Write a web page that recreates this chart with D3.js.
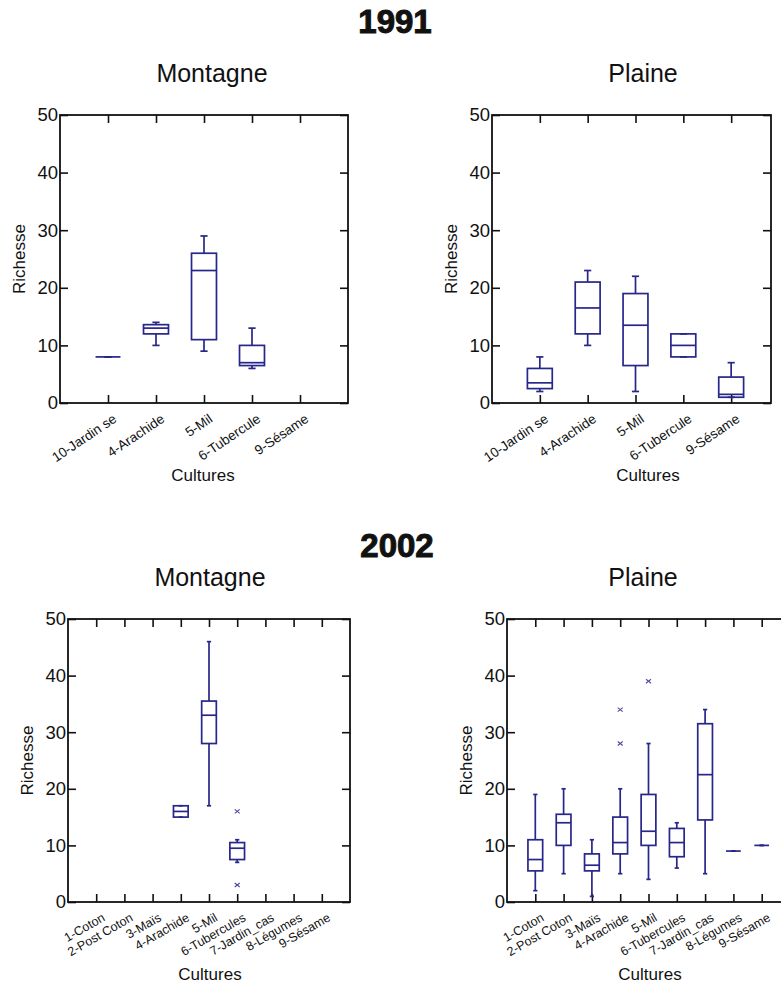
<!DOCTYPE html>
<html>
<head>
<meta charset="utf-8">
<title>Richesse par culture</title>
<script src="https://d3js.org/d3.v7.min.js"></script>
<style>
  body { margin: 0; background: #fff; }
  text { font-family: "Liberation Sans", Arial, sans-serif; fill: #111; }
</style>
</head>
<body>
<svg id="chart" width="781" height="983"></svg>
<script>
// categories
var cats1991 = ["10-Jardin se", "4-Arachide", "5-Mil", "6-Tubercule", "9-Sésame"];
var cats2002 = ["1-Coton", "2-Post Coton", "3-Maïs", "4-Arachide", "5-Mil",
                "6-Tubercules", "7-Jardin_cas", "8-Légumes", "9-Sésame"];
var yTicks = [0, 10, 20, 30, 40, 50];

// [min, q1, median, q3, max] per culture, null = no data
var montagne1991 = [[8, 8, 8, 8, 8], [10, 12, 13, 13.6, 14], [9, 11, 23, 26, 29],
                    [6, 6.5, 7, 10, 13], null];
var plaine1991 = [[2, 2.5, 3.5, 6, 8], [10, 12, 16.5, 21, 23], [2, 6.5, 13.5, 19, 22],
                  [8, 8, 10, 12, 12], [1, 1, 1.5, 4.5, 7]];
var montagne2002 = [null, null, null, [15, 15, 16, 17, 17], [17, 28, 33, 35.5, 46],
                    [7, 7.5, 9.5, 10.5, 11], null, null, null];
var plaine2002 = [[2, 5.5, 7.5, 11, 19], [5, 10, 14, 15.5, 20], [1, 5.5, 6.5, 8.5, 11],
                  [5, 8.5, 10.5, 15, 20], [4, 10, 12.5, 19, 28], [6, 8, 10.5, 13, 14],
                  [5, 14.5, 22.5, 31.5, 34], [9, 9, 9, 9, 9], [10, 10, 10, 10, 10]];
// outliers (x marks)
var montagne2002Out = [[], [], [], [], [], [16, 3], [], [], []];
var plaine2002Out = [[], [], [], [34, 28], [39], [], [], [], []];

var svg = d3.select("#chart")
var boxColor = "#27268a"

svg.append("text").attr("x", 395).attr("y", 33).attr("text-anchor", "middle")
  .attr("font-size", 33).attr("font-weight", "bold")
  .style("stroke", "#111").style("stroke-width", 1).text("1991")
svg.append("text").attr("x", 397).attr("y", 557).attr("text-anchor", "middle")
  .attr("font-size", 33).attr("font-weight", "bold")
  .style("stroke", "#111").style("stroke-width", 1).text("2002")

function drawPanel(p) {
  var g = svg.append("g")
  var x = d3.scalePoint().domain(p.cats).range([p.left, p.rangeRight]).padding(1)
  var y = d3.scaleLinear().domain([0, 50]).range([p.bottom, p.top])
  var bw = x.step() * 0.52
  var cw = x.step() * 0.15

  g.append("text").attr("x", p.titleX).attr("y", p.top - 33)
    .attr("text-anchor", "middle").attr("font-size", 25).text(p.title)

  // axes, ticks pointing inward
  var ax = g.append("g").attr("transform", "translate(" + p.left + ",0)")
    .call(d3.axisLeft(y).tickValues(yTicks).tickSize(-8).tickPadding(2))
  ax.selectAll("text").attr("font-size", 18.5).attr("fill", "#111")
  g.append("g").attr("transform", "translate(" + p.right + ",0)")
    .call(d3.axisRight(y).tickValues(yTicks).tickSize(-8).tickFormat(""))
  g.append("g").attr("transform", "translate(0," + p.top + ")")
    .call(d3.axisTop(x).tickSize(-8).tickFormat(""))
  var bx = g.append("g").attr("transform", "translate(0," + p.bottom + ")")
    .call(d3.axisBottom(x).tickSize(-8).tickPadding(0))
  bx.selectAll("text")
    .attr("font-size", p.labelSize).attr("fill", "#111")
    .attr("text-anchor", "end")
    .attr("dy", null).attr("y", null)
    .attr("transform", "translate(9,18) rotate(" + p.labelAngle + ")")
  g.selectAll(".domain").remove()
  g.selectAll(".tick line").attr("stroke", "#111").attr("stroke-width", 1.6)

  g.append("rect").attr("x", p.left).attr("y", p.top)
    .attr("width", p.right - p.left).attr("height", p.bottom - p.top)
    .attr("fill", "none").attr("stroke", "#111").attr("stroke-width", 1.8)

  g.append("text").attr("transform", "translate(" + (p.left - 41) + "," + ((p.top + p.bottom) / 2) + ") rotate(-90)")
    .attr("text-anchor", "middle").attr("dy", "0.35em").attr("font-size", 17).text("Richesse")
  g.append("text").attr("x", p.xLabelX).attr("y", p.bottom + 78)
    .attr("text-anchor", "middle").attr("font-size", 17).text("Cultures")

  // boxes
  var data = p.cats.map(function(c, i) { return {c: c, s: p.stats[i], o: p.out ? p.out[i] : []} })
  var box = g.selectAll("g.box").data(data.filter(function(d) { return d.s })).enter()
    .append("g").attr("class", "box")
    .attr("stroke", boxColor).attr("stroke-width", 1.7).attr("fill", "none")
  box.append("line").attr("x1", d => x(d.c)).attr("x2", d => x(d.c))
    .attr("y1", d => y(d.s[0])).attr("y2", d => y(d.s[1]))
  box.append("line").attr("x1", d => x(d.c)).attr("x2", d => x(d.c))
    .attr("y1", d => y(d.s[3])).attr("y2", d => y(d.s[4]))
  box.append("line").attr("x1", d => x(d.c) - cw / 2).attr("x2", d => x(d.c) + cw / 2)
    .attr("y1", d => y(d.s[0])).attr("y2", d => y(d.s[0]))
  box.append("line").attr("x1", d => x(d.c) - cw / 2).attr("x2", d => x(d.c) + cw / 2)
    .attr("y1", d => y(d.s[4])).attr("y2", d => y(d.s[4]))
  box.append("rect").attr("x", d => x(d.c) - bw / 2).attr("width", bw)
    .attr("y", d => y(d.s[3])).attr("height", d => y(d.s[1]) - y(d.s[3]))
  box.append("line").attr("x1", d => x(d.c) - bw / 2).attr("x2", d => x(d.c) + bw / 2)
    .attr("y1", d => y(d.s[2])).attr("y2", d => y(d.s[2]))

  // outliers
  var pts = []
  data.forEach(function(d) { d.o.forEach(function(v) { pts.push({c: d.c, v: v}) }) })
  var m = g.selectAll("g.out").data(pts).enter().append("g")
    .attr("transform", d => "translate(" + x(d.c) + "," + y(d.v) + ")")
    .attr("stroke", "#4a4aa8").attr("stroke-width", 1.1)
  m.append("line").attr("x1", -2.5).attr("y1", -2).attr("x2", 2.5).attr("y2", 2)
  m.append("line").attr("x1", -2.5).attr("y1", 2).attr("x2", 2.5).attr("y2", -2)
}

drawPanel({cats: cats1991, stats: montagne1991, title: "Montagne", titleX: 212,
  left: 60, right: 348, rangeRight: 348, top: 115, bottom: 403, xLabelX: 203,
  labelSize: 13.5, labelAngle: -34})
drawPanel({cats: cats1991, stats: plaine1991, title: "Plaine", titleX: 643,
  left: 492, right: 771, rangeRight: 779, top: 115, bottom: 403, xLabelX: 648,
  labelSize: 13.5, labelAngle: -34})
drawPanel({cats: cats2002, stats: montagne2002, out: montagne2002Out, title: "Montagne", titleX: 210,
  left: 68, right: 350, rangeRight: 350, top: 619, bottom: 902, xLabelX: 210,
  labelSize: 12.5, labelAngle: -30})
drawPanel({cats: cats2002, stats: plaine2002, out: plaine2002Out, title: "Plaine", titleX: 643,
  left: 507, right: 790, rangeRight: 790, top: 619, bottom: 902, xLabelX: 650,
  labelSize: 12.5, labelAngle: -30})
</script>
</body>
</html>
